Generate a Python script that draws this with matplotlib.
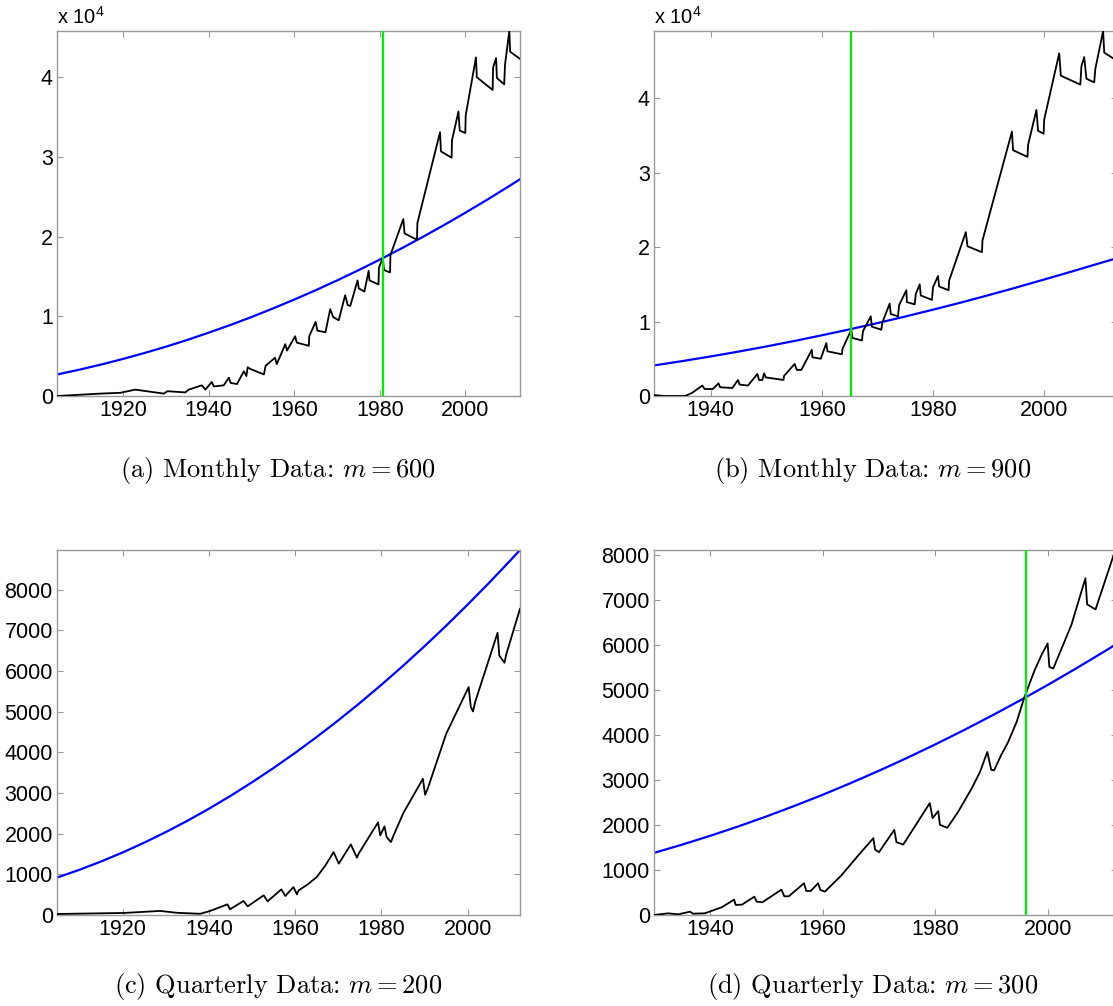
import matplotlib
matplotlib.use('Agg')
import matplotlib.pyplot as plt
from matplotlib.ticker import FuncFormatter

plt.rcParams['font.family'] = ['Liberation Sans', 'DejaVu Sans']
plt.rcParams['mathtext.fontset'] = 'custom'
plt.rcParams['mathtext.rm'] = 'Liberation Sans'
plt.rcParams['mathtext.it'] = 'Liberation Sans:italic'

# ---------------- data ----------------
# (a) Monthly, m = 600
years_a = [1904.5, 1914.6, 1919.3, 1922.8, 1929.5, 1930.3, 1934.5, 1935.3, 1938.4, 1939.2,
           1940.7, 1941.2, 1943.5, 1944.7, 1945.1, 1946.6, 1948.2, 1948.8, 1949.1, 1949.7,
           1952.9, 1953.3, 1955.5, 1955.9, 1957.9, 1958.3, 1960.2, 1960.6, 1963.4, 1963.5,
           1965.0, 1965.4, 1967.3, 1968.4, 1969.1, 1970.4, 1971.9, 1972.5, 1973.1, 1974.8,
           1975.1, 1976.4, 1977.4, 1977.6, 1979.7, 1979.8, 1980.7, 1981.0, 1982.4, 1982.5,
           1985.5, 1985.8, 1988.7, 1988.8, 1994.1, 1994.3, 1996.8, 1996.9, 1998.4, 1998.7,
           2000.0, 2000.1, 2002.5, 2002.7, 2006.4, 2006.5, 2007.2, 2007.4, 2009.1, 2009.3,
           2010.3, 2010.5, 2012.8]
series_a = [0, 300, 400, 800, 300, 600, 450, 800, 1340, 800,
            1760, 1200, 1340, 2300, 1650, 1500, 3100, 2500, 3600, 3400,
            2700, 3800, 4800, 4000, 6500, 5700, 7500, 6700, 6300, 7500,
            9300, 8200, 8000, 10900, 9900, 9500, 12650, 11400, 11300, 14500,
            13500, 13100, 15700, 14500, 14000, 16100, 17300, 15800, 15500, 17700,
            22200, 20400, 19600, 21700, 33100, 30700, 29900, 32100, 35700, 33300,
            33000, 35200, 42500, 40000, 38400, 41200, 42400, 39900, 39100, 41600,
            45800, 43200, 42300]
fit_years_a = [1904.5, 1910, 1915, 1920, 1925, 1930, 1935, 1940, 1945, 1950, 1955, 1960,
               1965, 1970, 1975, 1980, 1985, 1990, 1995, 2000, 2005, 2010, 2012.8]
fit_a = [2700, 3335, 3970, 4660, 5400, 6190, 7040, 7950, 8900, 9910, 10980, 12100,
         13270, 14500, 15780, 17110, 18500, 19940, 21440, 22990, 24590, 26250, 27200]
vline_a = 1980.8

# (b) Monthly, m = 900
years_b = [1929.8, 1931.6, 1935.4, 1936.6, 1938.5, 1938.9, 1940.4, 1941.4, 1941.7, 1943.9,
           1944.9, 1945.2, 1946.7, 1948.4, 1948.7, 1949.3, 1949.6, 1949.9, 1953.1, 1953.2,
           1955.1, 1955.5, 1956.3, 1958.2, 1958.3, 1959.8, 1960.8, 1961.0, 1963.6, 1963.7,
           1965.3, 1965.5, 1967.2, 1967.4, 1968.8, 1969.0, 1970.7, 1970.9, 1972.2, 1972.4,
           1973.7, 1973.9, 1975.2, 1975.3, 1976.7, 1976.9, 1977.6, 1977.8, 1979.8, 1980.0,
           1980.9, 1981.1, 1982.8, 1982.9, 1985.9, 1986.2, 1988.8, 1988.9, 1994.2, 1994.4,
           1997.0, 1997.1, 1998.6, 1998.9, 1999.9, 2000.0, 2002.7, 2003.0, 2006.5, 2006.7,
           2007.2, 2007.6, 2009.0, 2009.2, 2010.6, 2010.8, 2013.1]
series_b = [130, 0, 0, 400, 1400, 940, 940, 1700, 1170, 1080,
            2150, 1530, 1400, 2960, 2150, 2150, 3050, 2500, 2150, 2700,
            4300, 3500, 3500, 6200, 5200, 5000, 7100, 6000, 5600, 6300,
            8900, 7800, 7450, 8700, 10700, 9300, 8900, 9900, 12400, 11000,
            10700, 12200, 14200, 12600, 12300, 13700, 15000, 13500, 12900, 14600,
            16100, 14700, 14200, 15500, 22000, 20100, 19300, 20900, 35500, 33000,
            32100, 33700, 38400, 35600, 35200, 37100, 46000, 43000, 41800, 44300,
            45500, 42600, 42100, 43900, 49000, 46100, 45000]
fit_years_b = [1929.8, 1935, 1940, 1945, 1950, 1955, 1960, 1965, 1970, 1975, 1980, 1985,
               1990, 1995, 2000, 2005, 2010, 2013.1]
fit_b = [4100, 4700, 5310, 5960, 6650, 7380, 8150, 8950, 9790, 10670, 11590, 12540,
         13540, 14570, 15640, 16720, 17830, 18500]
vline_b = 1965.3

# (c) Quarterly, m = 200
years_c = [1904.8, 1920.2, 1928.7, 1932.6, 1938.0, 1940.3, 1944.3, 1944.9, 1948.0, 1949.0,
           1952.7, 1953.6, 1956.8, 1957.7, 1959.6, 1960.4, 1960.8, 1963.0, 1965.0, 1967.0,
           1968.9, 1970.1, 1972.9, 1974.3, 1974.7, 1979.2, 1979.7, 1980.7, 1981.2, 1982.2,
           1982.8, 1985.1, 1989.6, 1990.1, 1990.7, 1995.0, 2000.2, 2000.7, 2001.2, 2001.7,
           2006.9, 2007.3, 2008.5, 2008.95, 2012.1]
series_c = [25, 50, 100, 54, 30, 100, 262, 140, 344, 213,
            484, 336, 631, 467, 688, 508, 606, 760, 934, 1220,
            1548, 1263, 1737, 1410, 1508, 2278, 1958, 2179, 1916, 1794,
            1958, 2516, 3351, 2958, 3106, 4459, 5607, 5115, 5008, 5238,
            6943, 6385, 6205, 6426, 7533]
fit_years_c = [1904.8, 1910, 1915, 1920, 1925, 1930, 1935, 1940, 1945, 1950, 1955, 1960,
               1965, 1970, 1975, 1980, 1985, 1990, 1995, 2000, 2005, 2010, 2012.1]
fit_c = [920, 1112, 1316, 1538, 1779, 2039, 2317, 2614, 2930, 3265, 3618, 3990,
         4381, 4790, 5218, 5665, 6131, 6615, 7118, 7640, 8180, 8739, 8980]

# (d) Quarterly, m = 300
years_d = [1930.1, 1932.6, 1934.4, 1936.5, 1937.0, 1939.1, 1942.1, 1944.3, 1944.6, 1945.7,
           1947.9, 1948.3, 1949.3, 1952.7, 1953.2, 1954.0, 1956.7, 1957.1, 1957.9, 1959.2,
           1959.6, 1960.4, 1963.3, 1966.3, 1969.0, 1969.3, 1970.0, 1972.7, 1973.1, 1974.3,
           1979.0, 1979.5, 1980.5, 1980.8, 1982.1, 1984.0, 1986.4, 1987.9, 1989.2, 1989.9,
           1990.4, 1991.7, 1992.9, 1994.4, 1995.8, 1997.6, 1998.8, 1999.9, 2000.2, 2000.9,
           2004.1, 2006.6, 2006.9, 2008.4, 2011.9]
series_d = [0, 37, 15, 74, 30, 37, 171, 341, 223, 230,
            408, 297, 282, 564, 416, 416, 705, 534, 534, 705,
            557, 519, 876, 1321, 1707, 1455, 1395, 1892, 1618, 1566,
            2486, 2152, 2308, 2004, 1937, 2286, 2805, 3176, 3622, 3228,
            3213, 3562, 3844, 4289, 4846, 5440, 5774, 6033, 5514, 5477,
            6442, 7481, 6902, 6790, 8110]
fit_years_d = [1930.1, 1935, 1940, 1945, 1950, 1955, 1960, 1965, 1970, 1975, 1980, 1985,
               1990, 1995, 2000, 2005, 2010, 2012.2]
fit_d = [1380, 1560, 1757, 1966, 2188, 2424, 2671, 2932, 3206, 3492, 3792, 4104,
         4429, 4767, 5118, 5482, 5858, 6028]
vline_d = 1996.0

captions = ['(a) Monthly Data: $m = 600$',
            '(b) Monthly Data: $m = 900$',
            '(c) Quarterly Data: $m = 200$',
            '(d) Quarterly Data: $m = 300$']
xticks_ac = [1920, 1940, 1960, 1980, 2000]
xticks_bd = [1940, 1960, 1980, 2000]

# ---------------- figure ----------------
W, H = 1113, 1006
fig = plt.figure(figsize=(W / 100, H / 100), dpi=100)


def px_axes(left, top, right, bottom):
    return fig.add_axes([left / W, 1 - bottom / H, (right - left) / W, (bottom - top) / H])


SPINE = '#9a9a9a'


def style(ax):
    for s in ax.spines.values():
        s.set_color(SPINE)
        s.set_linewidth(1.0)
    ax.tick_params(direction='in', top=True, right=True, length=4, width=0.8,
                   color=SPINE, labelsize=15.5, labelcolor='black')
    ax.tick_params(axis='x', pad=3)
    ax.tick_params(axis='y', pad=3)


panels = [
    (px_axes(57, 31, 520, 396), years_a, series_a, fit_years_a, fit_a, vline_a,
     (1904.5, 2012.8), (0, 45800), xticks_ac, [0, 10000, 20000, 30000, 40000], True),
    (px_axes(654, 31, 1117, 396), years_b, series_b, fit_years_b, fit_b, vline_b,
     (1929.8, 2013.1), (0, 49000), xticks_bd, [0, 10000, 20000, 30000, 40000], True),
    (px_axes(57, 550, 520, 915), years_c, series_c, fit_years_c, fit_c, None,
     (1904.8, 2012.1), (0, 8980), xticks_ac, list(range(0, 9000, 1000)), False),
    (px_axes(654, 550, 1117, 915), years_d, series_d, fit_years_d, fit_d, vline_d,
     (1930.1, 2012.2), (0, 8110), xticks_bd, list(range(0, 9000, 1000)), False),
]

for ax, yrs, ser, fyrs, fit, vl, xl, yl, xt, yt, sci in panels:
    ax.plot(yrs, ser, color='black', lw=1.3, zorder=3)
    ax.plot(fyrs, fit, color='#0000ff', lw=1.6, zorder=2)
    if vl is not None:
        ax.axvline(vl, color='#00ee00', lw=1.6, zorder=4)
    ax.set_xlim(*xl)
    ax.set_ylim(*yl)
    ax.set_xticks(xt)
    ax.set_yticks(yt)
    if sci:
        ax.yaxis.set_major_formatter(FuncFormatter(lambda v, p: f'{v / 1e4:g}'))
        ax.text(0.0, 1.008, r'x 10$^{4}$', transform=ax.transAxes, ha='left', va='bottom',
                fontsize=14.5)
    style(ax)

cap_pos = [(278, 471), (873, 471), (278, 986), (873, 986)]
for (cx, cy), txt in zip(cap_pos, captions):
    fig.text(cx / W, 1 - cy / H, txt, ha='center', va='center', fontsize=19,
             fontfamily='cmr10', math_fontfamily='cm')

fig.savefig('out.png', dpi=100)
